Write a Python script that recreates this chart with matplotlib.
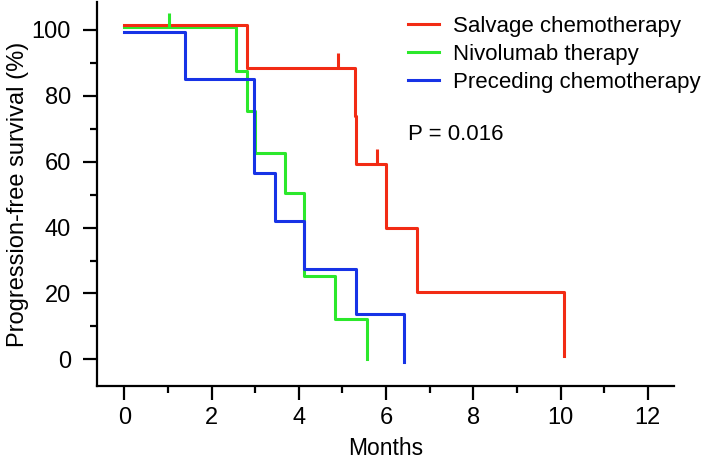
import matplotlib
matplotlib.use('Agg')
import matplotlib.pyplot as plt

# Step curves (months, survival %)
salvage_t = [0, 2.81, 5.28, 5.32, 5.99, 6.72, 10.09]
salvage_s = [101.5, 88.5, 74.0, 59.4, 39.8, 20.5, 1.0]
nivo_t = [0, 2.57, 2.81, 3.00, 3.69, 4.11, 4.84, 5.57]
nivo_s = [100.8, 87.5, 75.5, 62.6, 50.4, 25.3, 12.1, 0.1]
prec_t = [0, 1.385, 2.97, 3.46, 4.13, 5.31, 6.41]
prec_s = [99.5, 85.0, 56.5, 42.1, 27.4, 13.7, -0.8]

# censored observations
salvage_cens_t = [4.89, 5.80]
salvage_cens_s = [88.5, 59.4]
nivo_cens_t = [1.02]
nivo_cens_s = [100.8]

labels = ['Salvage chemotherapy', 'Nivolumab therapy', 'Preceding chemotherapy']
colors = ['#f22b14', '#2be82b', '#1733e6']

plt.rcParams['font.family'] = ['Liberation Sans', 'DejaVu Sans']

fig = plt.figure(figsize=(7.09, 4.65), dpi=100)
ax = fig.add_axes([0.1372, 0.1699, 0.8134, 0.8258])

lw = 2.2
l2, = ax.step(nivo_t, nivo_s, where='post', color=colors[1], lw=lw)
l3, = ax.step(prec_t, prec_s, where='post', color=colors[2], lw=lw)
l1, = ax.step(salvage_t, salvage_s, where='post', color=colors[0], lw=lw)

tick_h = 4.5
ax.vlines(salvage_cens_t, salvage_cens_s, [s + tick_h for s in salvage_cens_s], color=colors[0], lw=lw)
ax.vlines(nivo_cens_t, nivo_cens_s, [s + tick_h for s in nivo_cens_s], color=colors[1], lw=lw)

ax.set_xlim(-0.62, 12.6)
ax.set_ylim(-8.1, 108.5)
ax.set_xticks(range(0, 13, 2))
ax.set_xticks(range(1, 13, 2), minor=True)
ax.set_yticks(range(0, 101, 20))
ax.set_yticks(range(10, 100, 20), minor=True)

for s in ['top', 'right']:
    ax.spines[s].set_visible(False)
for s in ['left', 'bottom']:
    ax.spines[s].set_linewidth(1.6)
ax.tick_params(which='major', length=10, width=1.6, labelsize=17)
ax.tick_params(which='minor', length=5, width=1.6)
ax.tick_params(axis='x', which='major', pad=5)
ax.tick_params(axis='y', which='major', pad=9)

ax.set_xlabel('Months', fontsize=16.5, labelpad=6)
ax.set_ylabel('Progression-free survival (%)', fontsize=17, labelpad=2)

fig.legend([l1, l2, l3], labels, loc='upper left', bbox_to_anchor=(0.576, 0.965),
           frameon=False, fontsize=16, handlelength=1.4, handletextpad=0.6,
           labelspacing=0.3, borderpad=0, borderaxespad=0)
fig.text(408 / 709, 1 - 135 / 465, 'P = 0.016', fontsize=16, va='center', ha='left')

fig.savefig('out.png', dpi=100)
